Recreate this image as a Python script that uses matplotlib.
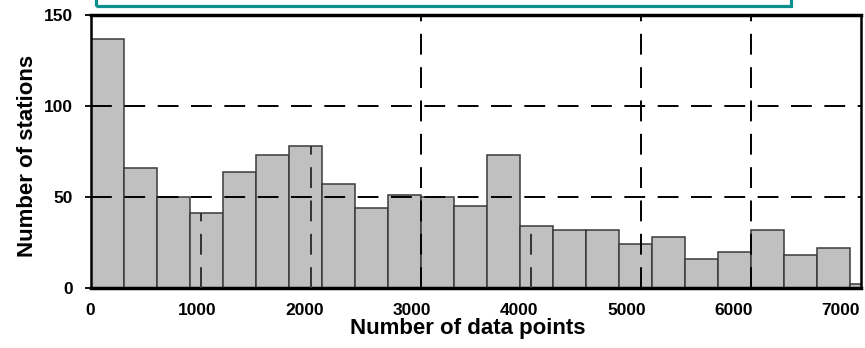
import matplotlib
matplotlib.use('Agg')
import matplotlib.pyplot as plt
import matplotlib.patches as mpatches
from matplotlib.transforms import ScaledTranslation

plt.rcParams['font.family'] = ['Liberation Sans', 'DejaVu Sans']
plt.rcParams['font.weight'] = 'bold'
plt.rcParams['axes.labelweight'] = 'bold'
plt.rcParams['lines.scale_dashes'] = False

# histogram: stations per 300-point bin of record length
bin_left = [0, 300, 600, 900, 1200, 1500, 1800, 2100, 2400, 2700, 3000, 3300,
            3600, 3900, 4200, 4500, 4800, 5100, 5400, 5700, 6000, 6300, 6600, 6900]
bin_width = 300
counts = [137, 66, 50, 41, 64, 73, 78, 57, 44, 51, 50, 45,
          73, 34, 32, 32, 24, 28, 16, 20, 32, 18, 22, 2]

x_ticks = [0, 1000, 2000, 3000, 4000, 5000, 6000, 7000]
y_ticks = [0, 50, 100, 150]
full_vgrid = [3000, 5000, 6000]
partial_vgrid = [1000, 2000, 4000]   # only visible inside the bars
hgrid = [50, 100]

fig = plt.figure(figsize=(8.65, 3.48), dpi=100)
ax = fig.add_axes([90.5 / 865, 1 - 288 / 348, 770.5 / 865, 273 / 348])

ax.bar(bin_left, counts, width=bin_width, align='edge', color='#c0c0c0',
       edgecolor='#3a3a3a', linewidth=1.1, zorder=2)

dash = (0, (15, 9))
for yv in hgrid:
    ax.axhline(yv, color='black', lw=1.4, ls=dash, zorder=3)
for xv in full_vgrid:
    ax.axvline(xv, color='black', lw=1.4, ls=dash, zorder=3)
for xv in partial_vgrid:
    h = counts[bin_left.index(xv // bin_width * bin_width)]
    ax.vlines(xv, 0, h, color='#333333', lw=1.4, linestyles=dash, zorder=3)

ax.set_xlim(0, 7000)
ax.set_ylim(0, 150)

ax.set_xticks(x_ticks)
ax.set_xticklabels([str(v) for v in x_ticks])
ax.set_yticks(y_ticks)
ax.set_yticklabels([str(v) for v in y_ticks])
ax.tick_params(axis='x', length=0, pad=11, labelsize=12.5)
ax.tick_params(axis='y', length=4.5, width=1.3, pad=8, labelsize=12.5, direction='out')

# small ticks only where the full grid lines run
ax.set_xticks(full_vgrid, minor=True)
ax.tick_params(axis='x', which='minor', length=4, width=1.3, top=True, bottom=True,
               direction='out')

# labels drift slightly left of their ticks in the original
for v, lab in zip(x_ticks, ax.get_xticklabels()):
    off = -v * 0.0029 * 0.72 / 72
    lab.set_transform(lab.get_transform() + ScaledTranslation(off, 0, fig.dpi_scale_trans))

for side in ['top', 'bottom']:
    ax.spines[side].set_linewidth(2.5)
for side in ['left', 'right']:
    ax.spines[side].set_linewidth(1.8)

ax.set_xlabel('Number of data points', fontsize=16)
ax.xaxis.set_label_coords(0.49, -0.11)
ax.set_ylabel('Number of stations', fontsize=16)
ax.yaxis.set_label_coords(-0.068, 0.482)

# teal frame edge cut by the top of the image
frame = mpatches.Rectangle((96 / 865, 1 - 6 / 348), (791 - 96) / 865, 0.2,
                           transform=fig.transFigure, fill=False,
                           edgecolor='#0e8f8f', linewidth=2.3, clip_on=False)
fig.patches.append(frame)

fig.savefig('out.png', dpi=100)
